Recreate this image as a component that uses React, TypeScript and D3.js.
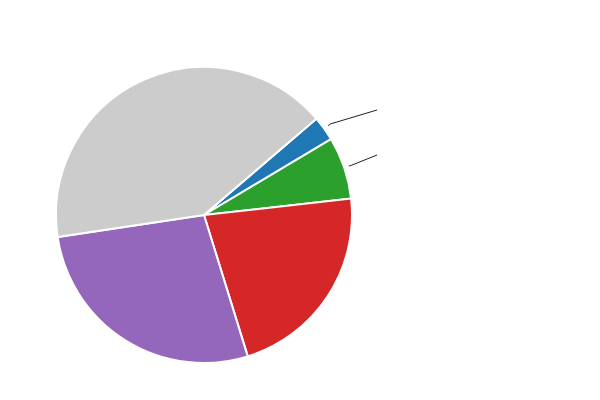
import React from 'react';
import * as d3 from 'd3';

const categories = ['A', 'B', 'C', 'D', 'E'];
const values = [2.7, 6.8, 22.0, 27.4, 41.1];
const colors = ['#1f77b4', '#2ca02c', '#d62728', '#9467bd', '#cccccc'];
// only the two smallest slices carry a leader line
const calloutIdx = [0, 1];

const width = 600;
const height = 400;
const cx = 204;
const cy = 215;
const radius = 148;
const startDeg = 49.4;
const leaderEndX = cx + 173;
const leaderEndY = [110, 155];

export default function App() {
  const pie = d3
    .pie<number>()
    .sort(null)
    .startAngle((startDeg * Math.PI) / 180)
    .endAngle((startDeg * Math.PI) / 180 + Math.PI * 2);
  const arcs = pie(values);
  const arc = d3.arc<d3.PieArcDatum<number>>().innerRadius(0).outerRadius(radius);

  const polar = (a: number, r: number) => [cx + r * Math.sin(a), cy - r * Math.cos(a)];

  return (
    <svg width={width} height={height} style={{ position: 'absolute', left: 0, top: 0 }}>
      <rect width={width} height={height} fill="#fff" />
      <g transform={`translate(${cx},${cy})`}>
        {arcs.map((d, i) => (
          <path
            key={categories[i]}
            d={arc(d) ?? ''}
            fill={colors[i]}
            stroke="#fff"
            strokeWidth={2}
          />
        ))}
      </g>
      {calloutIdx.map((i, k) => {
        const d = arcs[i];
        const mid = (d.startAngle + d.endAngle) / 2;
        const [x0, y0] = polar(mid, radius + 5);
        const [x1, y1] = polar(mid, radius + 8);
        return (
          <polyline
            key={categories[i]}
            points={`${x0},${y0} ${x1},${y1} ${leaderEndX},${leaderEndY[k]}`}
            fill="none"
            stroke="#222"
            strokeWidth={1}
          />
        );
      })}
    </svg>
  );
}
